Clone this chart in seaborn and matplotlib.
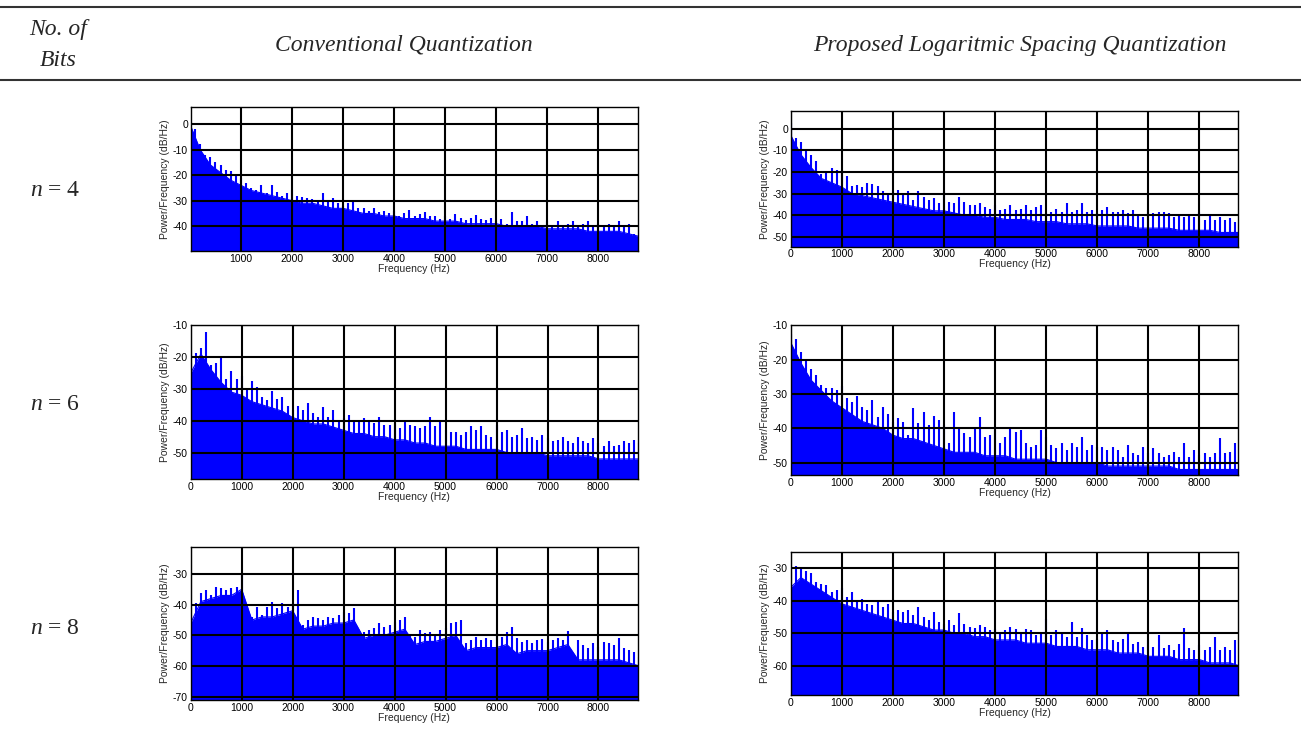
import numpy as np
import matplotlib
matplotlib.use("Agg")
import matplotlib.pyplot as plt
from matplotlib.lines import Line2D
import seaborn as sns

# frequency bins (Hz): spike tops every 100 Hz, dense body every 200 Hz
peak_freq = list(range(0, 8801, 100))
body_freq = list(range(0, 8801, 200))

# n = 4, conventional quantization
conv4_peak = [4, -2, -8, -12, -13, -15, -16, -18, -18.5, -20,
              -21, -23, -25, -26, -24, -27, -24, -26.5, -28, -27,
              -26, -28, -28.5, -29, -29.4, -30, -27, -30.5, -29, -31,
              -32, -31, -30.5, -33, -33, -34, -33, -34.4, -34, -35,
              -34, -36, -35, -33.7, -36, -35.4, -34.4, -36, -36, -37,
              -36, -37, -35.4, -36.7, -37.6, -36.7, -35.7, -37, -37.6, -36.7,
              -38, -37, -39, -34.6, -38, -38, -36, -39, -38, -39.6,
              -38, -39.6, -38, -39.6, -39, -38, -40, -39, -38, -40,
              -39, -40, -39, -40, -38, -40, -39, -43, -44]
conv4_body = [0, -10, -16, -19, -22, -24, -26, -27, -28, -29,
              -30, -31, -31, -32, -33, -33, -34, -35, -35, -36,
              -36, -37, -37, -37, -38, -38, -38, -39, -39, -39,
              -39, -40, -40, -40, -40, -41, -41, -41, -41, -42,
              -42, -42, -42, -43, -44]

# n = 4, proposed log spacing quantization
log4_peak = [2.5, -4.5, -6, -10.3, -12, -15, -21, -20.6, -18.4, -19,
             -19, -22, -26.4, -26, -27, -25.3, -25.8, -26.4, -29, -30.7,
             -29, -28.4, -30.4, -29, -33, -29, -31.5, -33, -32, -34.6,
             -29, -33.8, -34.6, -31.5, -33.8, -35.3, -35.3, -34.6, -36, -37,
             -35.3, -37.7, -37, -35.3, -37.7, -37, -35.3, -37.7, -36, -35.3,
             -39, -38.4, -37, -38.4, -34.6, -38.4, -37.7, -34.6, -38.4, -37.7,
             -39, -37.7, -36, -38.7, -38.4, -37.7, -39, -37.7, -40, -40.7,
             -37.7, -39, -38.4, -38.4, -39, -40.7, -40, -40.7, -40, -40.7,
             -38.4, -42.3, -40, -42.3, -40.7, -42.3, -41.5, -43, -43]
log4_body = [-3, -12, -18, -23, -25, -27, -30, -31, -32, -33,
             -34, -35, -36, -37, -38, -38, -39, -40, -40, -41,
             -41, -42, -42, -42, -43, -43, -43, -44, -44, -44,
             -45, -45, -45, -45, -46, -46, -46, -46, -47, -47,
             -47, -47, -48, -48, -48]

# n = 6, conventional
conv6_peak = [-22, -18.7, -17, -12, -22.4, -21.9, -20, -27, -24.5, -27,
              -26, -29.7, -27.6, -29.4, -32.6, -33.4, -30.8, -33.2, -32.4, -35.5,
              -36.6, -35.5, -36.6, -34.5, -37.6, -38.7, -35.7, -38.7, -36.6, -39.7,
              -39.2, -38.1, -39.7, -40.2, -39.2, -39.7, -40.8, -38.7, -41.3, -41.3,
              -40.8, -42.3, -40.2, -41.3, -41.8, -42.3, -41.8, -38.7, -41.8, -40.2,
              -42.9, -43.4, -43.4, -44.4, -43.4, -41.8, -42.9, -41.6, -44.4, -45,
              -41.3, -43.4, -42.9, -45, -44.4, -42.3, -45.5, -45, -46, -44.4,
              -45.5, -46.5, -46, -45, -46.5, -47, -45, -46.5, -47, -45.5,
              -47, -48, -46.5, -48, -47.6, -46.5, -47, -46, -47]
conv6_body = [-25, -19, -24, -28, -31, -32, -34, -35, -36, -37,
              -39, -40, -41, -41, -42, -43, -44, -44, -45, -45,
              -46, -46, -47, -47, -48, -48, -48, -49, -49, -49,
              -49, -50, -50, -50, -50, -51, -51, -51, -51, -51,
              -52, -52, -52, -52, -52]

# n = 6, proposed
log6_peak = [-12.4, -13.9, -17.7, -19.7, -22.6, -24.5, -27.4, -28.4, -28.4, -28.9,
             -27.7, -31.3, -32.3, -30.6, -33.7, -34.7, -31.8, -36.6, -33.7, -35.7,
             -38.1, -37.1, -38.1, -42, -34.2, -38.6, -35.2, -39, -36.4, -37.6,
             -39, -44.4, -35.2, -39.5, -41.3, -42.4, -40, -36.6, -42.4, -42,
             -40.5, -44.4, -42.4, -39.5, -41, -40.5, -44.4, -45.4, -44.9, -40.5,
             -42.4, -44.9, -45.8, -44.4, -46.3, -44.4, -45.4, -42.4, -46.3, -44.9,
             -45.4, -45.4, -46.3, -45.4, -46.3, -48.3, -44.9, -47.3, -47.8, -45.4,
             -47.3, -45.8, -47.3, -48.3, -47.8, -46.8, -48.3, -44.4, -48.3, -46.3,
             -47.8, -47.3, -48.3, -47.3, -42.9, -47.3, -46.8, -44.4, -47]
log6_body = [-15, -21, -26, -29, -32, -34, -36, -38, -39, -40,
             -42, -43, -43, -44, -45, -46, -47, -47, -47, -48,
             -48, -48, -49, -49, -49, -49, -50, -50, -50, -50,
             -50, -51, -51, -51, -51, -51, -51, -51, -52, -52,
             -52, -52, -52, -52, -52]

# n = 8, conventional
conv8_peak = [-43.4, -39.6, -36.3, -35.2, -36.8, -34.1, -34.7, -35.2, -34.7, -34.1,
              -30.3, -40.7, -43.9, -40.7, -43.4, -40.7, -39, -41.2, -39.6, -40.7,
              -39.6, -35.2, -46.6, -45, -43.9, -44.5, -45, -43.9, -44.5, -43.4,
              -42.3, -42.8, -41.2, -49.9, -48.8, -48.3, -47.7, -46.1, -47.2, -46.6,
              -45.5, -45, -44.1, -49.9, -50.4, -48.3, -49.3, -48.8, -49.9, -48.3,
              -47.7, -46.1, -45.5, -45, -52.6, -51.5, -50.4, -51.5, -51, -51.5,
              -49.1, -50.4, -48.8, -47.4, -51, -52.1, -51.5, -52.6, -51.5, -51.3,
              -52.1, -51.5, -51, -51.5, -48.5, -55.9, -51.5, -53.2, -54.2, -52.6,
              -53.7, -52.1, -52.6, -53.2, -51, -54.2, -54.8, -55.3, -57]
conv8_body = [-46, -39, -38, -37, -37, -35, -45, -44, -44, -43,
              -42, -48, -47, -47, -46, -46, -45, -51, -50, -50,
              -49, -48, -53, -52, -52, -51, -50, -55, -54, -54,
              -54, -53, -56, -55, -55, -55, -54, -53, -58, -58,
              -58, -58, -58, -59, -60]

# n = 8, proposed
log8_peak = [-31.2, -29.5, -30.5, -30.9, -31.7, -34.3, -34.8, -35.3, -37.3, -36.8,
             -36.3, -38.9, -37.3, -40.4, -39.4, -40.9, -41.4, -40.4, -41.9, -40.9,
             -43.4, -42.9, -43.4, -42.9, -44.4, -42.1, -45, -46, -43.4, -46.5,
             -47, -46, -47.5, -43.7, -47, -48, -48.5, -47.5, -48.2, -49,
             -48.8, -49.5, -49, -48, -48.8, -49.5, -48.8, -49, -50.5, -49.5,
             -45.5, -50.5, -49, -50, -51, -46.5, -51, -48.5, -50.5, -52.1,
             -51.6, -50, -49, -52.1, -52.6, -51.6, -50, -53.1, -52.6, -54.1,
             -52.1, -54.1, -50.5, -54.6, -53.6, -55.1, -53.1, -48.5, -54.6, -55.1,
             -53.6, -55.1, -54.1, -51, -55.1, -54.1, -55.1, -52.1, -55]
log8_body = [-36, -33, -35, -37, -39, -41, -42, -43, -44, -45,
             -46, -47, -47, -48, -49, -49, -50, -50, -51, -51,
             -52, -52, -52, -53, -53, -53, -54, -54, -54, -55,
             -55, -55, -56, -56, -56, -57, -57, -57, -58, -58,
             -58, -59, -59, -59, -60]

row_labels = ["4", "6", "8"]
col_titles = ["Conventional Quantization", "Proposed Logaritmic Spacing Quantization"]

sns.set_theme(style="white")
plt.rcParams["font.family"] = ["Liberation Sans", "DejaVu Sans"]
plt.rcParams["axes.unicode_minus"] = False
plt.rcParams["mathtext.fontset"] = "custom"
plt.rcParams["mathtext.it"] = "Liberation Serif:italic"
plt.rcParams["mathtext.rm"] = "Liberation Serif"

W, H = 1301, 736
fig = plt.figure(figsize=(W / 100, H / 100), dpi=100)

def box(l, t, r, b):
    return [l / W, 1 - b / H, (r - l) / W, (b - t) / H]

panels = [
    (conv4_peak, conv4_body, box(190.7, 106.7, 638, 251), (15, 8775), (-49.7, 6.8), [-40, -30, -20, -10, 0]),
    (log4_peak, log4_body, box(790.7, 111, 1238.3, 246.7), (0, 8760), (-54.6, 8.2), [-50, -40, -30, -20, -10, 0]),
    (conv6_peak, conv6_body, box(190.7, 325, 638, 479.3), (0, 8775), (-58.4, -9.9), [-50, -40, -30, -20, -10]),
    (log6_peak, log6_body, box(790.7, 325, 1238.3, 475.3), (0, 8760), (-53.7, -9.9), [-50, -40, -30, -20, -10]),
    (conv8_peak, conv8_body, box(190.7, 547.3, 638, 700), (0, 8775), (-71.1, -21.3), [-70, -60, -50, -40, -30]),
    (log8_peak, log8_body, box(790.7, 551.7, 1238.3, 695), (0, 8760), (-68.8, -25.1), [-60, -50, -40, -30]),
]

for peak, body, rect, xlim, ylim, yticks in panels:
    ax = fig.add_axes(rect)
    lo = ylim[0]
    ax.fill_between(body_freq, lo, body, color="blue", lw=0, zorder=1)
    sns.lineplot(x=body_freq, y=body, ax=ax, color="blue", lw=0.8, zorder=1)
    ax.vlines(peak_freq, lo, peak, color="blue", lw=1.5, zorder=1)
    ax.set_xlim(*xlim)
    ax.set_ylim(*ylim)
    xt = [t for t in range(0, 8001, 1000) if t >= xlim[0]]
    ax.set_xticks(xt)
    ax.set_yticks(yticks)
    ax.tick_params(labelsize=7.5, direction="in", length=3, pad=2, colors="black")
    ax.grid(True, color="black", lw=1.5, zorder=3)
    ax.set_axisbelow(False)
    for s in ax.spines.values():
        s.set_color("black")
        s.set_linewidth(1.0)
        s.set_zorder(4)
    ax.set_xlabel("Frequency (Hz)", fontsize=7.5, labelpad=0)
    ax.set_ylabel("Power/Frequency (dB/Hz)", fontsize=7.5, labelpad=2)

# table rules and header text
for y in (7, 80):
    fig.add_artist(Line2D([0, 1], [1 - y / H] * 2, color="#333333", lw=1.5))

serif = dict(family="Liberation Serif", style="italic", fontsize=17, ha="center", va="center")
fig.text(58 / W, 1 - 30 / H, "No. of", **serif)
fig.text(58 / W, 1 - 60 / H, "Bits", **serif)
fig.text(404 / W, 1 - 45 / H, col_titles[0], **serif)
fig.text(1020 / W, 1 - 45 / H, col_titles[1], **serif)

for lab, yc in zip(row_labels, (190, 405, 628)):
    fig.text(55 / W, 1 - yc / H, r"$n$ = " + lab, family="Liberation Serif",
             fontsize=17, ha="center", va="center")

fig.savefig("out.png", dpi=100)
